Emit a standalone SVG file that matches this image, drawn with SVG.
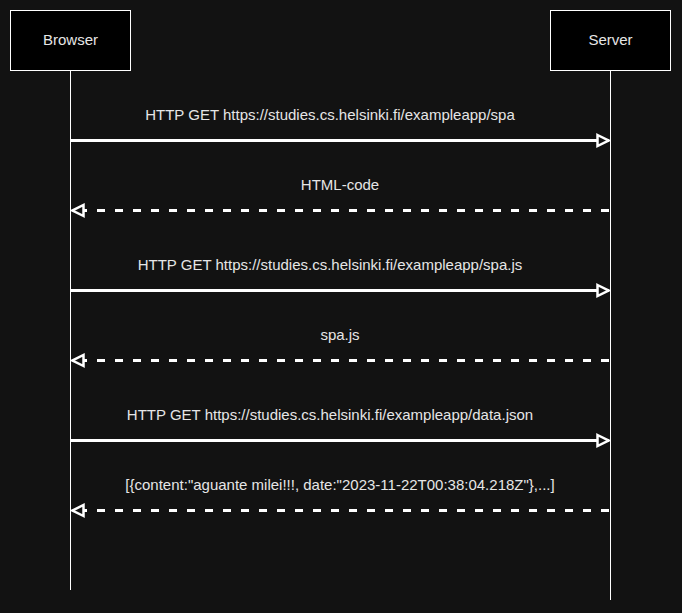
<svg xmlns="http://www.w3.org/2000/svg" width="682" height="613" viewBox="0 0 682 613">
<style>
.box{fill:#000;stroke:#fff;stroke-width:1}
.life{stroke:#fff;stroke-width:1}
.t{font-family:"Liberation Sans",Arial,sans-serif;font-size:15px;fill:#e6e6e6;text-anchor:middle}
.msg{stroke:#fff;stroke-width:3;fill:none}
.dash{stroke-dasharray:8 10}
</style>
<defs>
<marker id="ah" markerUnits="userSpaceOnUse" markerWidth="16" markerHeight="16" refX="14" refY="7" orient="auto" viewBox="0 0 16 14">
<path d="M2.5,1.5 L13.5,7 L2.5,12.5 Z" fill="#121212" stroke="#fff" stroke-width="2.5" stroke-linejoin="miter"/>
</marker>
</defs>
<rect width="682" height="613" fill="#121212"/>
<g id="browser">
<rect class="box" x="10.5" y="10.5" width="120" height="60"/>
<text class="t" x="70.5" y="45">Browser</text>
</g>
<g id="server">
<rect class="box" x="550.5" y="10.5" width="120" height="60"/>
<text class="t" x="610.5" y="45">Server</text>
</g>
<g id="connectors">
<line class="life" x1="70.5" y1="71" x2="70.5" y2="590"/>
<line class="life" x1="610.5" y1="71" x2="610.5" y2="600"/>
<line class="msg" x1="71" y1="140.5" x2="609" y2="140.5" marker-end="url(#ah)"/>
<line class="msg dash" x1="609" y1="210.5" x2="72" y2="210.5" marker-end="url(#ah)"/>
<line class="msg" x1="71" y1="290.5" x2="609" y2="290.5" marker-end="url(#ah)"/>
<line class="msg dash" x1="609" y1="360.5" x2="72" y2="360.5" marker-end="url(#ah)"/>
<line class="msg" x1="71" y1="440.5" x2="609" y2="440.5" marker-end="url(#ah)"/>
<line class="msg dash" x1="609" y1="510.5" x2="72" y2="510.5" marker-end="url(#ah)"/>
<text class="t" x="330" y="120">HTTP GET https://studies.cs.helsinki.fi/exampleapp/spa</text>
<text class="t" x="340" y="190">HTML-code</text>
<text class="t" x="330" y="270">HTTP GET https://studies.cs.helsinki.fi/exampleapp/spa.js</text>
<text class="t" x="340" y="340">spa.js</text>
<text class="t" x="330" y="420">HTTP GET https://studies.cs.helsinki.fi/exampleapp/data.json</text>
<text class="t" x="340" y="490">[{content:"aguante milei!!!, date:"2023-11-22T00:38:04.218Z"},...]</text>
</g>
</svg>
